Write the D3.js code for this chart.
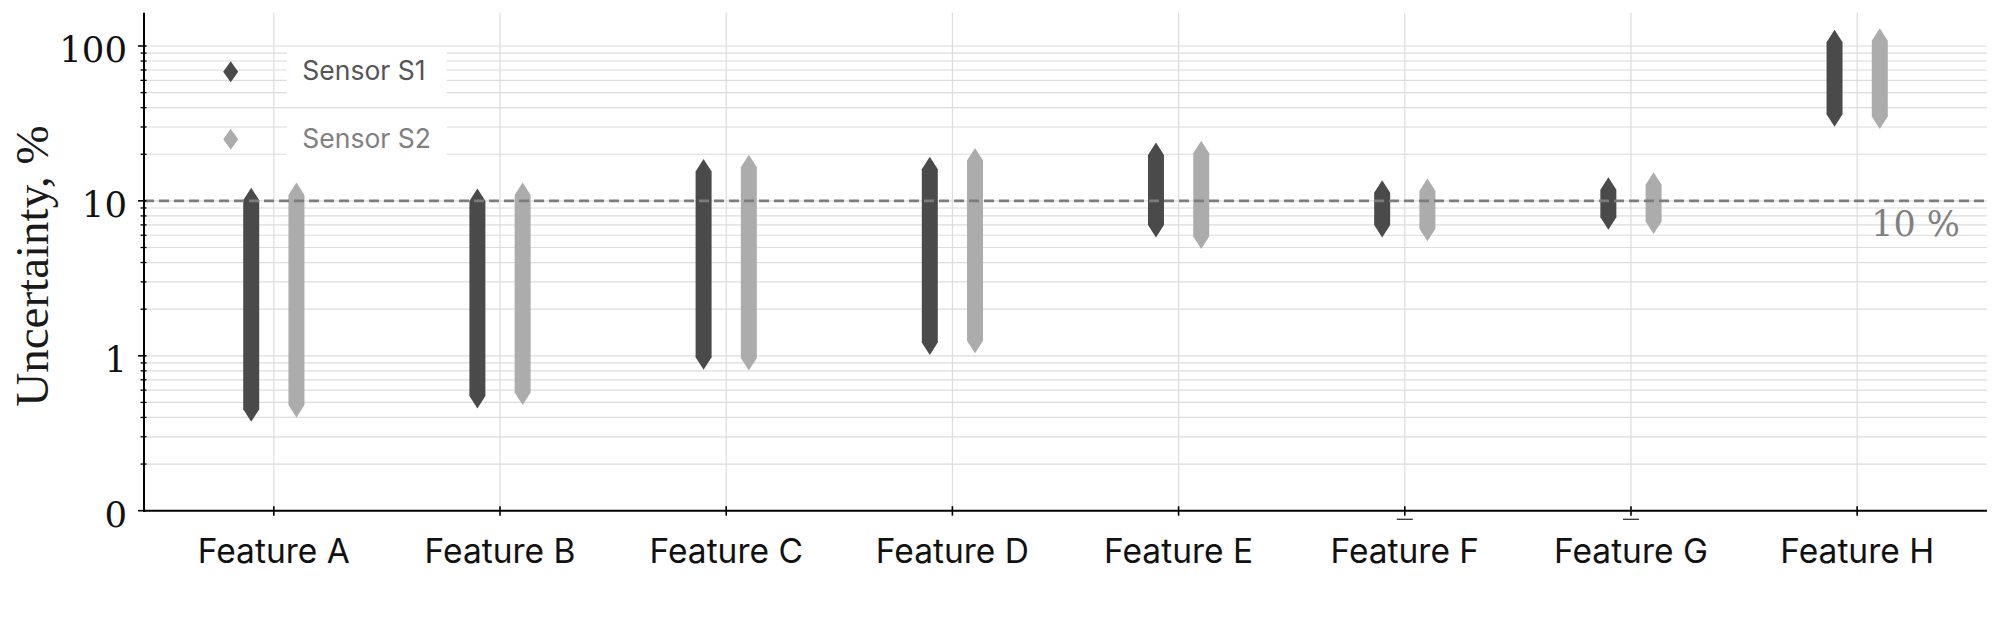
<!DOCTYPE html>
<html>
<head>
<meta charset="utf-8">
<script src="https://cdn.jsdelivr.net/npm/d3@7"></script>
<style>
  html, body { margin: 0; padding: 0; background: #fff; }
  svg { display: block; }
</style>
</head>
<body>
<svg id="chart" width="2000" height="627"></svg>
<script>
// ---------------- data ----------------
const categories = ["Feature A", "Feature B", "Feature C", "Feature D", "Feature E", "Feature F", "Feature G", "Feature H"];
const seriesNames = ["Sensor S1", "Sensor S2"];
const s1Low  = [0.655, 0.74, 0.99, 1.22, 7.0, 7.0, 7.85, 36.3];
const s1High = [10.1, 10.0, 15.5, 16.0, 19.8, 11.3, 11.8, 105.6];
const s2Low  = [0.683, 0.763, 0.985, 1.25, 5.9, 6.6, 7.36, 35.0];
const s2High = [10.9, 10.9, 16.5, 18.2, 20.3, 11.6, 12.7, 108];
const yMajorTicks = [0, 1, 10, 100];
const yMajorLabels = ["0", "1", "10", "100"];
const yMinorSubs = [2, 3, 4, 5, 6, 7, 8, 9];
const thresholdValue = 10;
const thresholdLabel = "10 %";
const yLabel = "Uncertainty, %";
const underlineCats = ["Feature F", "Feature G"];
const yMax = 164;

// ---------------- layout ----------------
const W = 2000, H = 627;
const plotL = 144, plotR = 1987, plotT = 12.7, plotB = 510.7;
const colors = ["#4a4a4a", "#acacac"];
const legendText = ["#555555", "#808080"];

const svg = d3.select("#chart");

// symlog-like transform: linear in [0,1], log10 above
const tf = v => v < 1 ? v : 1 + Math.log10(v);
const yLin = d3.scaleLinear().domain([0, tf(yMax)]).range([plotB, plotT]);
const y = v => yLin(tf(v));

const x = d3.scalePoint().domain(categories).range([plotL, plotR]).padding(0.574);
const step = x.step();
const off = step * 0.1;
const barW = 16, tip = 12.5;

// minor tick values
const minorVals = [];
yMinorSubs.forEach(k => { minorVals.push(Math.log10(k)); });       // linear region (positions as log fractions)
yMinorSubs.forEach(k => { minorVals.push(k); minorVals.push(k * 10); });

// ---------------- grid ----------------
const grid = svg.append("g");
grid.selectAll("line.h").data(minorVals.concat([1, 10, 100]).filter(v => v <= yMax))
  .join("line")
  .attr("x1", plotL).attr("x2", plotR)
  .attr("y1", d => y(d)).attr("y2", d => y(d))
  .attr("stroke", "#dcdcdc").attr("stroke-width", 1.2);
grid.selectAll("line.v").data(categories)
  .join("line")
  .attr("x1", d => x(d)).attr("x2", d => x(d))
  .attr("y1", plotT).attr("y2", plotB)
  .attr("stroke", "#dcdcdc").attr("stroke-width", 1.2);

// ---------------- bars ----------------
function hexPath(cx, lo, hi) {
  const yt = y(hi), yb = y(lo), hw = barW / 2;
  return `M${cx - hw},${yt} L${cx},${yt - tip} L${cx + hw},${yt} L${cx + hw},${yb} L${cx},${yb + tip} L${cx - hw},${yb} Z`;
}
const series = [
  { name: seriesNames[0], low: s1Low, high: s1High, dx: -off, color: colors[0] },
  { name: seriesNames[1], low: s2Low, high: s2High, dx: off, color: colors[1] }
];
series.forEach(s => {
  svg.append("g").selectAll("path")
    .data(categories.map((c, i) => ({ c, lo: s.low[i], hi: s.high[i] })))
    .join("path")
    .attr("d", d => hexPath(x(d.c) + s.dx, d.lo, d.hi))
    .attr("fill", s.color);
});

// ---------------- threshold line ----------------
svg.append("line")
  .attr("x1", plotL).attr("x2", plotR)
  .attr("y1", y(thresholdValue)).attr("y2", y(thresholdValue))
  .attr("stroke", "#7c7c7c").attr("stroke-width", 2.6)
  .attr("stroke-dasharray", "10,5");
svg.append("text")
  .attr("x", x(categories[categories.length - 1]) + 14)
  .attr("y", y(thresholdValue) + 35.6)
  .attr("font-family", "DejaVu Serif, serif")
  .attr("font-size", 35)
  .attr("fill", "#808080")
  .text(thresholdLabel);

// ---------------- axes ----------------
const ax = svg.append("g");
ax.append("line").attr("x1", plotL).attr("x2", plotL).attr("y1", plotT).attr("y2", plotB + 1)
  .attr("stroke", "#000").attr("stroke-width", 2);
ax.append("line").attr("x1", plotL - 1).attr("x2", plotR).attr("y1", plotB).attr("y2", plotB)
  .attr("stroke", "#000").attr("stroke-width", 2);

// y ticks
ax.selectAll("line.ymaj").data(yMajorTicks).join("line")
  .attr("x1", plotL - 6).attr("x2", plotL + 2.5)
  .attr("y1", d => y(d)).attr("y2", d => y(d))
  .attr("stroke", "#000").attr("stroke-width", 1.6);
ax.selectAll("line.ymin").data(minorVals.filter(v => v <= yMax)).join("line")
  .attr("x1", plotL - 3.5).attr("x2", plotL + 2.5)
  .attr("y1", d => y(d)).attr("y2", d => y(d))
  .attr("stroke", "#000").attr("stroke-width", 1.3);
ax.selectAll("text.ylab").data(yMajorTicks).join("text")
  .attr("x", 127).attr("y", d => y(d) + 16.3)
  .attr("text-anchor", "end")
  .attr("font-family", "DejaVu Serif, serif")
  .attr("font-size", 35.5)
  .attr("fill", "#111")
  .text((d, i) => yMajorLabels[i]);

// x ticks
ax.selectAll("line.xt").data(categories).join("line")
  .attr("x1", d => x(d)).attr("x2", d => x(d))
  .attr("y1", plotB - 4.5).attr("y2", plotB + 5)
  .attr("stroke", "#000").attr("stroke-width", 1.6);
ax.selectAll("line.xu").data(underlineCats).join("line")
  .attr("x1", d => x(d) - 8).attr("x2", d => x(d) + 8)
  .attr("y1", plotB + 8.6).attr("y2", plotB + 8.6)
  .attr("stroke", "#333").attr("stroke-width", 1.3);
ax.selectAll("text.xl").data(categories).join("text")
  .attr("x", d => x(d)).attr("y", 563.3)
  .attr("text-anchor", "middle")
  .attr("font-family", "Inter, sans-serif")
  .attr("font-size", 33.5)
  .attr("fill", "#111")
  .text(d => d);

// y label
svg.append("text")
  .attr("transform", `translate(48.3, ${(121 + 411) / 2}) rotate(-90)`)
  .attr("text-anchor", "middle")
  .attr("font-family", "Liberation Serif, serif")
  .attr("font-size", 47)
  .attr("fill", "#1a1a1a")
  .text(yLabel);

// ---------------- legend ----------------
const leg = svg.append("g");
const legRows = [{ y: 71.7, box: [50, 100] }, { y: 139.3, box: [116, 157] }];
seriesNames.forEach((name, i) => {
  const r = legRows[i];
  leg.append("rect").attr("x", 286.7).attr("y", r.box[0]).attr("width", 160).attr("height", r.box[1] - r.box[0])
    .attr("fill", "#fff");
  leg.append("path")
    .attr("d", `M230.7,${r.y - 10.5} L238.2,${r.y} L230.7,${r.y + 10.5} L223.2,${r.y} Z`)
    .attr("fill", colors[i]);
  leg.append("text").attr("x", 302.3).attr("y", r.y + 8.5)
    .attr("font-family", "Inter, sans-serif").attr("font-size", 26.5)
    .attr("fill", legendText[i])
    .text(name);
});
</script>
</body>
</html>
